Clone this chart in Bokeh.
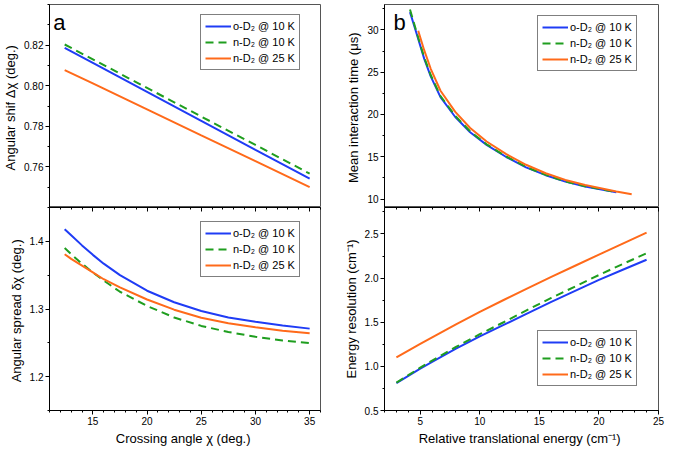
from bokeh.plotting import figure
from bokeh.layouts import row, column
from bokeh.models import (FixedTicker, LinearAxis, Range1d, Legend, LegendItem, Label,
                          PrintfTickFormatter, CustomLabelingPolicy)
from bokeh.embed import file_html
from bokeh.resources import INLINE

FONT = "Liberation Sans"
BLUE = "#1f3cf5"
GREEN = "#1f9e1f"
ORANGE = "#ff6a1a"

series_labels = ["o-D\u2082 @ 10 K", "n-D\u2082 @ 10 K", "n-D\u2082 @ 25 K"]

# panel a (top): angular shift vs crossing angle
chi_a = [12.4, 15, 20, 25, 30, 35]
shift_o10 = [0.8186, 0.8112, 0.7970, 0.7827, 0.7684, 0.7542]
shift_n10 = [0.8203, 0.8130, 0.7989, 0.7848, 0.7708, 0.7567]
shift_n25 = [0.8077, 0.8011, 0.7883, 0.7755, 0.7628, 0.7500]

# panel a (bottom): angular spread vs crossing angle
chi_s = [12.4, 13, 14, 15, 16, 17.5, 20, 22.5, 25, 27.5, 30, 32.5, 35]
spread_o10 = [1.418, 1.409, 1.394, 1.380, 1.367, 1.350, 1.327, 1.310, 1.297, 1.2875, 1.281, 1.2755, 1.271]
spread_n10 = [1.390, 1.381, 1.367, 1.354, 1.342, 1.3255, 1.3045, 1.2875, 1.275, 1.266, 1.259, 1.2535, 1.2495]
spread_n25 = [1.381, 1.374, 1.364, 1.354, 1.344, 1.332, 1.314, 1.299, 1.287, 1.279, 1.273, 1.268, 1.264]

# panel b (top): mean interaction time vs relative translational energy
e_t10 = [4.14, 4.64, 5.33, 5.88, 6.70, 7.94, 9.19, 10.57, 12.22, 13.88, 15.53, 17.18, 18.84, 21.46]
time_o10 = [32.1, 29.8, 26.6, 24.5, 22.05, 19.7, 17.9, 16.4, 14.97, 13.75, 12.82, 12.06, 11.49, 10.81]
time_n10 = [32.4, 30.0, 26.75, 24.66, 22.18, 19.83, 18.0, 16.47, 15.03, 13.8, 12.86, 12.09, 11.52, 10.83]
e_t25 = [4.83, 5.33, 5.88, 6.70, 7.94, 9.19, 10.57, 12.22, 13.88, 15.53, 17.18, 18.84, 21.46, 22.75]
time_n25 = [29.9, 27.6, 25.4, 22.8, 20.3, 18.4, 16.8, 15.3, 14.05, 13.05, 12.25, 11.65, 10.9, 10.56]

# panel b (bottom): energy resolution vs relative translational energy
e_r = [3, 4, 5, 6, 8, 10, 12, 14, 16, 18, 20, 22, 24]
res_o10 = [0.81, 0.893, 0.975, 1.05, 1.20, 1.34, 1.47, 1.60, 1.73, 1.855, 1.98, 2.095, 2.208]
res_n10 = [0.815, 0.90, 0.985, 1.065, 1.22, 1.365, 1.50, 1.64, 1.775, 1.905, 2.035, 2.16, 2.281]
res_n25 = [1.101, 1.178, 1.254, 1.328, 1.476, 1.618, 1.752, 1.884, 2.013, 2.14, 2.266, 2.391, 2.515]

# axes
chi_ticks = [15, 20, 25, 30, 35]
chi_minor = list(range(11, 37))
energy_ticks = [5, 10, 15, 20, 25]
energy_minor = list(range(2, 26))
shift_ticks = [0.76, 0.78, 0.80, 0.82]
shift_minor = [0.74, 0.75, 0.76, 0.77, 0.78, 0.79, 0.80, 0.81, 0.82, 0.83, 0.84]
spread_ticks = [1.2, 1.3, 1.4]
spread_minor = [1.15, 1.2, 1.25, 1.3, 1.35, 1.4, 1.45]
time_ticks = [10, 15, 20, 25, 30]
time_minor = [10, 12.5, 15, 17.5, 20, 22.5, 25, 27.5, 30, 32.5]
res_ticks = [0.5, 1.0, 1.5, 2.0, 2.5]
res_minor = [0.5, 0.75, 1.0, 1.25, 1.5, 1.75, 2.0, 2.25, 2.5, 2.75]


def style_axis(ax, label, fmt):
    ax.axis_label = label
    ax.axis_label_text_font = FONT
    ax.axis_label_text_font_size = "13px"
    ax.axis_label_text_font_style = "normal"
    ax.axis_label_text_color = "black"
    ax.axis_label_standoff = 3
    ax.major_label_text_font = FONT
    ax.major_label_text_font_size = "10px"
    ax.major_label_text_color = "black"
    ax.major_label_standoff = 2
    ax.formatter = PrintfTickFormatter(format=fmt)
    ax.axis_line_color = "black"
    ax.major_tick_line_color = "black"
    ax.minor_tick_line_color = "black"
    ax.major_tick_out = 4
    ax.major_tick_in = 0
    ax.minor_tick_out = 2
    ax.minor_tick_in = 0


def make_fig(width, height, xr, yr, top, xticks, xminor, yticks, yminor, ylabel, xlabel,
             yfmt, mb_left, mb_right):
    p = figure(width=width, height=height, x_range=Range1d(*xr), y_range=Range1d(*yr),
               output_backend="svg", toolbar_location=None,
               x_axis_location=None if top else "below",
               min_border_left=mb_left, min_border_right=mb_right,
               min_border_top=4 if top else 0, min_border_bottom=0 if top else 38)
    p.grid.visible = False
    p.outline_line_color = "#555555"
    p.outline_line_width = 1
    p.background_fill_color = "white"
    p.border_fill_color = "white"
    p.yaxis.ticker = FixedTicker(ticks=yticks, minor_ticks=yminor)
    style_axis(p.yaxis[0], ylabel, yfmt)
    if not top:
        p.xaxis.ticker = FixedTicker(ticks=xticks, minor_ticks=xminor)
        style_axis(p.xaxis[0], xlabel, "%d")
        up = LinearAxis(ticker=FixedTicker(ticks=xticks, minor_ticks=xminor),
                        major_label_policy=CustomLabelingPolicy(
                            code="for (const i of indices) { indices.unset(i) }\nreturn indices"),
                        major_label_text_font_size="0px", major_label_standoff=0,
                        major_tick_in=4, major_tick_out=0, minor_tick_in=2, minor_tick_out=0,
                        axis_line_color="black", major_tick_line_color="black",
                        minor_tick_line_color="black")
        p.add_layout(up, "above")
    return p


def add_lines(p, xs, ys_list, loc):
    r1 = p.line(xs[0], ys_list[0], line_color=BLUE, line_width=2)
    r2 = p.line(xs[1], ys_list[1], line_color=GREEN, line_width=2, line_dash="8 5")
    r3 = p.line(xs[2], ys_list[2], line_color=ORANGE, line_width=2)
    items = [LegendItem(label=series_labels[0], renderers=[r1]),
             LegendItem(label=series_labels[1], renderers=[r2]),
             LegendItem(label=series_labels[2], renderers=[r3])]
    lg = Legend(items=items, location=loc, margin=0, padding=4, spacing=2,
                glyph_width=26, glyph_height=14, label_height=14, label_standoff=2,
                label_text_font=FONT, label_text_font_size="11px", label_text_color="black",
                border_line_color="black", border_line_width=1, background_fill_alpha=1.0)
    p.add_layout(lg)


LW, RW = 330, 336
TH, BH = 207, 241

pa1 = make_fig(LW, TH, (11, 36), (0.74, 0.84), True, chi_ticks, chi_minor, shift_ticks, shift_minor,
               "Angular shif \u0394\u03c7  (deg.)", "", "%.2f", 46, 10)
add_lines(pa1, [chi_a, chi_a, chi_a], [shift_o10, shift_n10, shift_n25], (151, 137))
pa1.add_layout(Label(x=11.35, y=0.8375, text="a", text_baseline="top", text_font=FONT,
                     text_font_size="22px", text_color="black"))

pa2 = make_fig(LW, BH, (11, 36), (1.15, 1.45), False, chi_ticks, chi_minor, spread_ticks, spread_minor,
               "Angular spread \u03b4\u03c7  (deg.)", "Crossing angle \u03c7  (deg.)", "%.1f", 46, 10)
add_lines(pa2, [chi_s, chi_s, chi_s], [spread_o10, spread_n10, spread_n25], (151, 133))

pb1 = make_fig(RW, TH, (2, 25), (9, 33), True, energy_ticks, energy_minor, time_ticks, time_minor,
               "Mean interaction time  (\u03bcs)", "", "%d", 54, 8)
add_lines(pb1, [e_t10, e_t10, e_t25], [time_o10, time_n10, time_n25], (153, 136))
pb1.add_layout(Label(x=2.75, y=32.3, text="b", text_baseline="top", text_font=FONT,
                     text_font_size="22px", text_color="black"))

pb2 = make_fig(RW, BH, (2, 25), (0.5, 2.8), False, energy_ticks, energy_minor, res_ticks, res_minor,
               "Energy resolution (cm\u207b\u00b9)", "Relative translational energy  (cm\u207b\u00b9)",
               "%.1f", 54, 8)
add_lines(pb2, [e_r, e_r, e_r], [res_o10, res_n10, res_n25], (153, 24))

layout = row(column(pa1, pa2), column(pb1, pb2))

with open("out.html", "w") as f:
    f.write(file_html(layout, INLINE))
